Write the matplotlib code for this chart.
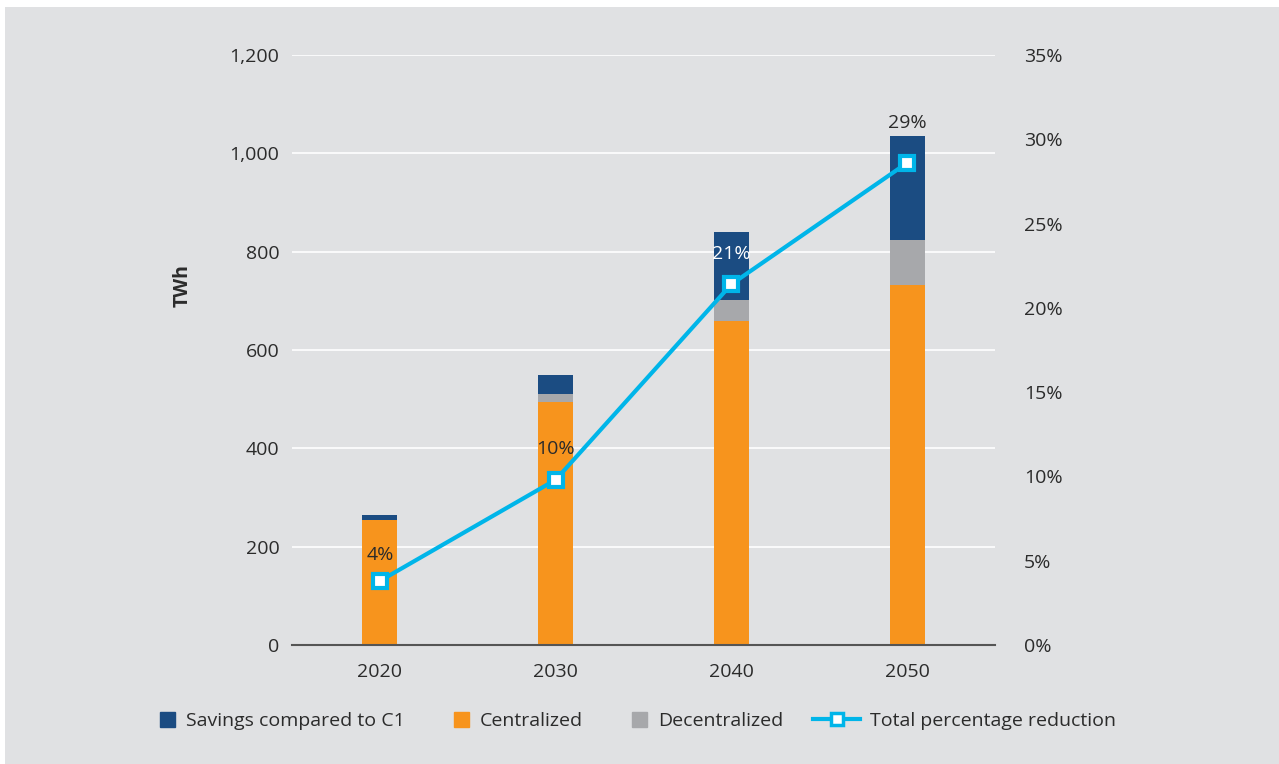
import numpy as np
import matplotlib.pyplot as plt
from matplotlib.patches import Rectangle
from matplotlib.lines import Line2D
from matplotlib.legend_handler import HandlerPatch

plt.rcParams['font.family'] = ['Open Sans', 'DejaVu Sans']

years = ['2020', '2030', '2040', '2050']
centralized = [254, 494, 658, 732]
decentralized = [0, 16, 44, 92]
savings = [10, 39, 138, 211]
reduction_pct = [3.8, 9.8, 21.4, 28.6]
reduction_labels = ['4%', '10%', '21%', '29%']

BG = '#e0e1e3'
ORANGE = '#f7941d'
GRAY = '#a7a8ab'
NAVY = '#1b4c82'
CYAN = '#00b5e9'
TXT = '#2b2b2b'
FS = 14

fig = plt.figure(figsize=(12.79, 7.64), dpi=100)
fig.patch.set_facecolor('white')
fig.patches.append(Rectangle((5 / 1279, 0), 1, 1 - 7 / 764, transform=fig.transFigure,
                             facecolor=BG, edgecolor='none', zorder=-10))

ax = fig.add_axes([292 / 1279, 1 - 645 / 764, (995 - 292) / 1279, (645 - 55) / 764])
ax.patch.set_alpha(0)
x = np.arange(len(years))
w = 0.2

ax.bar(x, centralized, w, color=ORANGE, zorder=3)
ax.bar(x, decentralized, w, bottom=centralized, color=GRAY, zorder=3)
bottom2 = np.array(centralized) + np.array(decentralized)
ax.bar(x, savings, w, bottom=bottom2, color=NAVY, zorder=3)

ax.set_ylim(0, 1200)
ax.set_xlim(-0.5, 3.5)
ax.set_yticks(range(0, 1201, 200))
ax.set_yticklabels([f'{v:,}' for v in range(0, 1201, 200)])
ax.set_xticks(x)
ax.set_xticklabels(years)
ax.grid(axis='y', color='white', linewidth=1.2, zorder=0)
for s in ['top', 'right', 'left']:
    ax.spines[s].set_visible(False)
ax.spines['bottom'].set_color('#555555')
ax.spines['bottom'].set_linewidth(1.5)
ax.spines['bottom'].set_zorder(4)
ax.tick_params(axis='both', length=0, labelsize=FS, colors=TXT)
ax.tick_params(axis='y', pad=9)
ax.tick_params(axis='x', pad=13)
fig.text(183 / 1279, 1 - 286 / 764, 'TWh', rotation=90, ha='center', va='center',
         fontsize=FS, fontweight='bold', color=TXT)

ax2 = ax.twinx()
ax2.set_ylim(0, 35)
ax2.set_yticks(range(0, 36, 5))
ax2.set_yticklabels([f'{v}%' for v in range(0, 36, 5)])
ax2.tick_params(axis='y', length=0, labelsize=FS, colors=TXT, pad=21)
for s in ax2.spines.values():
    s.set_visible(False)
ax2.plot(x, reduction_pct, color=CYAN, linewidth=3, marker='s', markersize=10,
         markerfacecolor='white', markeredgecolor=CYAN, markeredgewidth=3, zorder=5)

label_y = [5.35, 11.6, 23.2, 30.95]
label_c = [TXT, TXT, 'white', TXT]
for xi, ly, t, c in zip(x, label_y, reduction_labels, label_c):
    ax2.text(xi, ly, t, ha='center', va='center', fontsize=FS, color=c, zorder=6)


def small_square(legend, orig_handle, xdescent, ydescent, width, height, fontsize):
    s = 11
    return Rectangle((-xdescent + width - s, -ydescent + (height - s) / 2), s, s)


# bar swatches and the line entry sit in two legends so the swatch widths can differ
bar_handles = [
    Rectangle((0, 0), 1, 1, color=NAVY),
    Rectangle((0, 0), 1, 1, color=ORANGE),
    Rectangle((0, 0), 1, 1, color=GRAY),
]
bar_labels = ['Savings compared to C1', 'Centralized', 'Decentralized']
sq = HandlerPatch(patch_func=small_square)
leg1 = fig.legend(bar_handles, bar_labels, loc='center left',
                  bbox_to_anchor=(164 / 1279, 1 - 721 / 764), ncol=3, frameon=False,
                  fontsize=FS, handlelength=0.57, columnspacing=2.75, handletextpad=0.55,
                  borderpad=0, borderaxespad=0, labelcolor=TXT,
                  handler_map={h: sq for h in bar_handles})

line_handle = Line2D([0], [0], color=CYAN, linewidth=3, marker='s', markersize=9,
                     markerfacecolor='white', markeredgecolor=CYAN, markeredgewidth=2.5)
fig.legend([line_handle], ['Total percentage reduction'], loc='center left',
           bbox_to_anchor=(813 / 1279, 1 - 721 / 764), frameon=False, fontsize=FS,
           handlelength=2.42, handletextpad=0.5, borderpad=0, borderaxespad=0,
           labelcolor=TXT)

fig.savefig('out.png', dpi=100, facecolor=fig.get_facecolor())
